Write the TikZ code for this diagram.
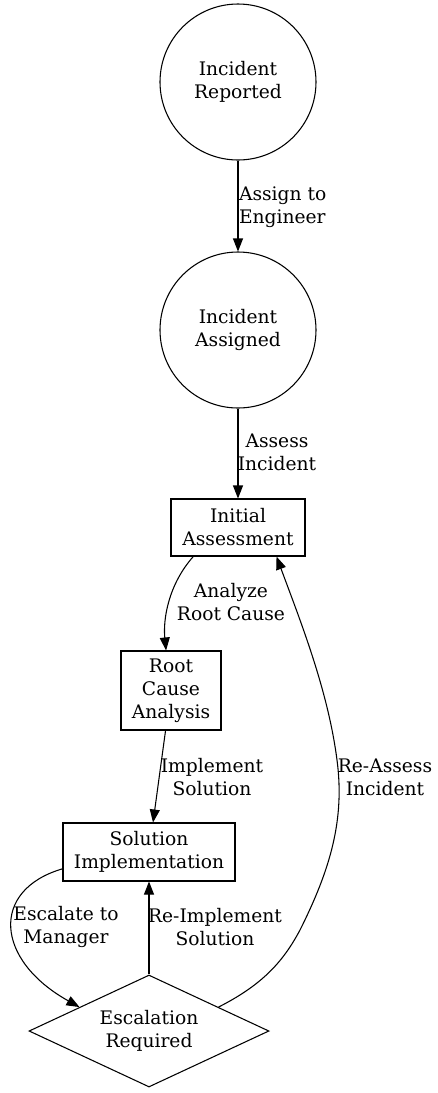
\documentclass[tikz,border=0pt]{standalone}
\usepackage{fontspec}
\setmainfont{DejaVu Serif}
\usetikzlibrary{arrows.meta,shapes.geometric}

\begin{document}
\begin{tikzpicture}[x=0.75pt,y=-0.75pt,line width=.8pt,
  every node/.style={font=\fontsize{14}{17.25}\selectfont,align=center},
  state/.style={draw,circle,minimum size=117pt,inner sep=0pt},
  task/.style={draw,rectangle,inner sep=0pt},
  check/.style={draw,diamond,aspect=2.14,inner sep=0pt,minimum width=180pt,minimum height=84pt},
  flow/.style={-{Triangle[length=9.75pt,width=7.5pt]}},
  lbl/.style={inner sep=0pt}]
\path[use as bounding box] (0,0) rectangle (438,1093);
% states
\node[state] (reported) at (238,82) {Incident\\Reported};
\node[state] (assigned) at (238,330) {Incident\\Assigned};
% tasks
\node[task,minimum width=100.5pt,minimum height=42.75pt] (initial) at (238,527.5) {Initial\\Assessment};
\node[task,minimum width=75pt,minimum height=59.25pt] (rootcause) at (171,690.5) {Root\\Cause\\Analysis};
\node[task,minimum width=129pt,minimum height=43.5pt] (solution) at (149,852) {Solution\\Implementation};
\node[check] (escalation) at (149,1031) {Escalation\\Required};
% edges
\draw[flow] (reported) -- (assigned);
\draw[flow] (assigned) -- (initial);
\draw[flow] (initial.213.5) .. controls (168,585) and (163,620) .. (rootcause.97);
\draw[flow] (rootcause) -- (solution);
\draw[flow] (solution.191.8) .. controls (-10,890) and (-5,960) .. (escalation.161);
\draw[flow] (escalation.north) -- (solution.south);
\draw[flow] (escalation.19) .. controls (262,985) and (283,962) .. (300,930)
  .. controls (330,870) and (345,820) .. (337,760)
  .. controls (328,690) and (300,620) .. (initial.323.8);
% labels
\node[lbl,anchor=west,align=left] (l1) at (238.5,207) {Assign to\\Engineer};
\node[lbl] (l2) at (277,452) {Assess\\Incident};
\node[lbl] (l3) at (231,602) {Analyze\\Root Cause};
\node[lbl] (l4) at (212,777) {Implement\\Solution};
\node[lbl] (l5) at (385,777) {Re-Assess\\Incident};
\node[lbl] (l6) at (66,927) {Escalate to\\Manager};
\node[lbl] (l7) at (215,927) {Re-Implement\\Solution};
\end{tikzpicture}
\end{document}
